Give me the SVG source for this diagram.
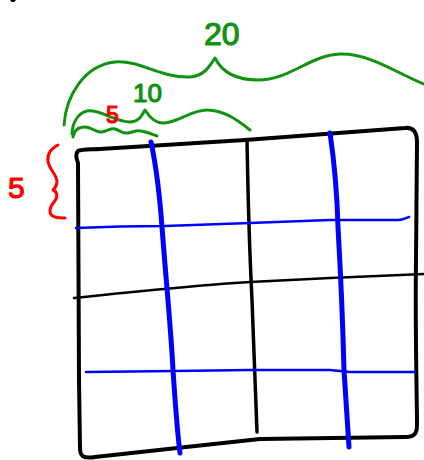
<svg xmlns="http://www.w3.org/2000/svg" width="424" height="460" viewBox="0 0 424 460">
<style>
.s{fill:none;stroke-linecap:round;stroke-linejoin:round}
.k{stroke:#000}
.b{stroke:#0000ff}
.g{stroke:#119211}
.r{stroke:#ff0000}
.t{font-family:"Liberation Sans","DejaVu Sans",sans-serif;stroke-width:1.2;stroke-linejoin:round}
</style>
<rect width="424" height="460" fill="#fff"/>
<ellipse cx="13" cy="0.5" rx="2.5" ry="1.5" fill="#000"/>
<g id="box">
<path class="s k" stroke-width="4" d="M78,163 C76,158 75,154 78,151 C81,149 88,149.5 100,149 L245,140 L405,128 C413,127 417,132 417,142 L416,260 C415,330 417,400 417,425 C417,434 414,437 405,437 L333,438 L260,439 L177,448 L95,457 C83,459 80,456 80,448 L79,380 C79,300 78,220 78,163"/>
<path class="s k" stroke-width="2.5" d="M74,298 C150,290 200,285 250,282 L330,278 L424,274"/>
<path class="s k" stroke-width="3.5" d="M247,140 C248,200 250,260 252,300 C254,360 256,400 257,432"/>
</g>
<g id="blue">
<path class="s b" stroke-width="5" d="M151,142 C157,170 160,200 162,227 C166,280 171,330 173,370 C175,400 177,430 180,453"/>
<path class="s b" stroke-width="5" d="M330,133 C334,160 337,190 338,227 C341,280 343,330 344,370 C346,400 348,430 349,447"/>
<path class="s b" stroke-width="2.5" d="M76,228 C120,226 150,226 165,226 L250,223 L330,220 L398,220 C403,220 406,218 409,217"/>
<path class="s b" stroke-width="2.5" d="M86,372 L175,371 L250,370 L330,370 L350,372 L415,372"/>
</g>
<g id="brace20">
<path class="s g" stroke-width="3" d="M64,125 C66,95 85,65 115,62 C140,60 160,78 190,77 C205,76 210,65 215,58 C220,68 230,80 258,80 C290,80 310,55 340,54 C370,53 400,75 424,84"/>
<text class="t" x="204" y="45" font-size="32" fill="#119211" stroke="#119211">20</text>
</g>
<g id="brace10">
<path class="s g" stroke-width="3" d="M72,134 C72,125 77,113 87,111 C100,109 115,122 130,122 C140,122 142,114 145,110 C150,118 156,124 165,123 C180,121 192,110 207,110 C225,110 240,122 250,130"/>
<text class="t" x="133" y="102" font-size="26" fill="#119211" stroke="#119211">10</text>
</g>
<g id="brace5">
<path class="s g" stroke-width="3" d="M73,137 C74,131 78,127 85,127 C92,127 96,133 102,132 C108,131 110,128 115,129 C120,130 122,134 128,133 C134,132 136,130 141,131 C148,132 152,134 157,136"/>
<text class="t" x="106" y="123" font-size="23" fill="#ff0000" stroke="#ff0000">5</text>
</g>
<g id="brace5left">
<path class="s r" stroke-width="3" d="M58,145 C52,148 47,153 48,161 C49,170 57,174 57,182 C57,186 55,188 53,190 C58,192 58,197 54,202 C49,208 48,215 55,217 C58,218 62,218 65,218"/>
<text class="t" x="8" y="198" font-size="30" fill="#ff0000" stroke="#ff0000" stroke-width="0.8">5</text>
</g>
</svg>
